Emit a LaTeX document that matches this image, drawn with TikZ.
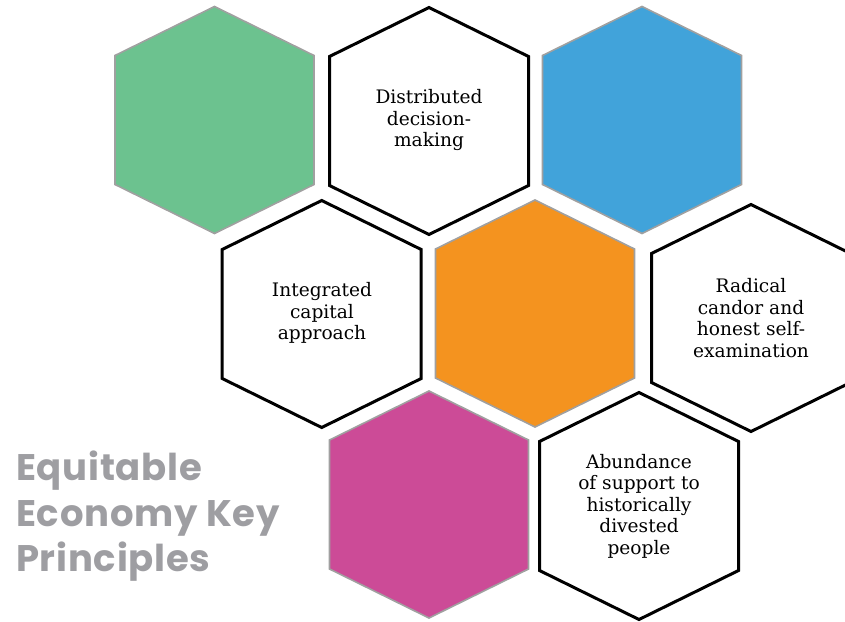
\documentclass[tikz,border=0pt]{standalone}
\usepackage{fontspec}
\newfontfamily\hexfont{DejaVu Serif}
\newfontfamily\titlefont[LetterSpace=2]{Poppins}
\definecolor{hgreen}{HTML}{6CC28F}
\definecolor{hblue}{HTML}{41A3DA}
\definecolor{horange}{HTML}{F4931F}
\definecolor{hmag}{HTML}{CC4B97}
\definecolor{hgray}{HTML}{9E9EA2}
\definecolor{hedge}{HTML}{A0A0A0}
\newcommand\hexat[3]{\path[#3] (#1-99.5,#2-64.5) -- (#1,#2-113.5) -- (#1+99.5,#2-64.5) -- (#1+99.5,#2+64.5) -- (#1,#2+113.5) -- (#1-99.5,#2+64.5) -- cycle;}
\tikzset{
  colhex/.style={draw=hedge, line width=1.6pt, line join=miter},
  whitehex/.style={draw=black, fill=white, line width=3pt, line join=miter},
  hextext/.style={align=center, font=\hexfont\fontsize{18.6}{21.5}\selectfont, inner sep=0pt},
  titletext/.style={anchor=base west, text=hgray, font=\titlefont\bfseries\fontsize{37}{45}\selectfont, inner sep=0pt}
}
\begin{document}
\begin{tikzpicture}[x=1pt,y=-1pt]
\useasboundingbox (0,0) rectangle (845,621);
\hexat{214.5}{120}{colhex, fill=hgreen}
\hexat{429}{121}{whitehex}
\hexat{642}{120}{colhex, fill=hblue}
\hexat{321.7}{314}{whitehex}
\hexat{535}{313.5}{colhex, fill=horange}
\hexat{751}{318}{whitehex}
\hexat{429}{504.5}{colhex, fill=hmag}
\hexat{639}{506}{whitehex}
\node[hextext] (dist) at (429,120) {Distributed\\decision-\\making};
\node[hextext] (integ) at (322,313) {Integrated\\capital\\approach};
\node[hextext] (radical) at (751,318) {Radical\\candor and\\honest self-\\examination};
\node[hextext] (abund) at (639,506) {Abundance\\of support to\\historically\\divested\\people};
\node[titletext] (title1) at (16,480) {Equitable};
\node[titletext] (title2) at (16,526) {Economy Key};
\node[titletext] (title3) at (16,571) {Principles};
\end{tikzpicture}
\end{document}
